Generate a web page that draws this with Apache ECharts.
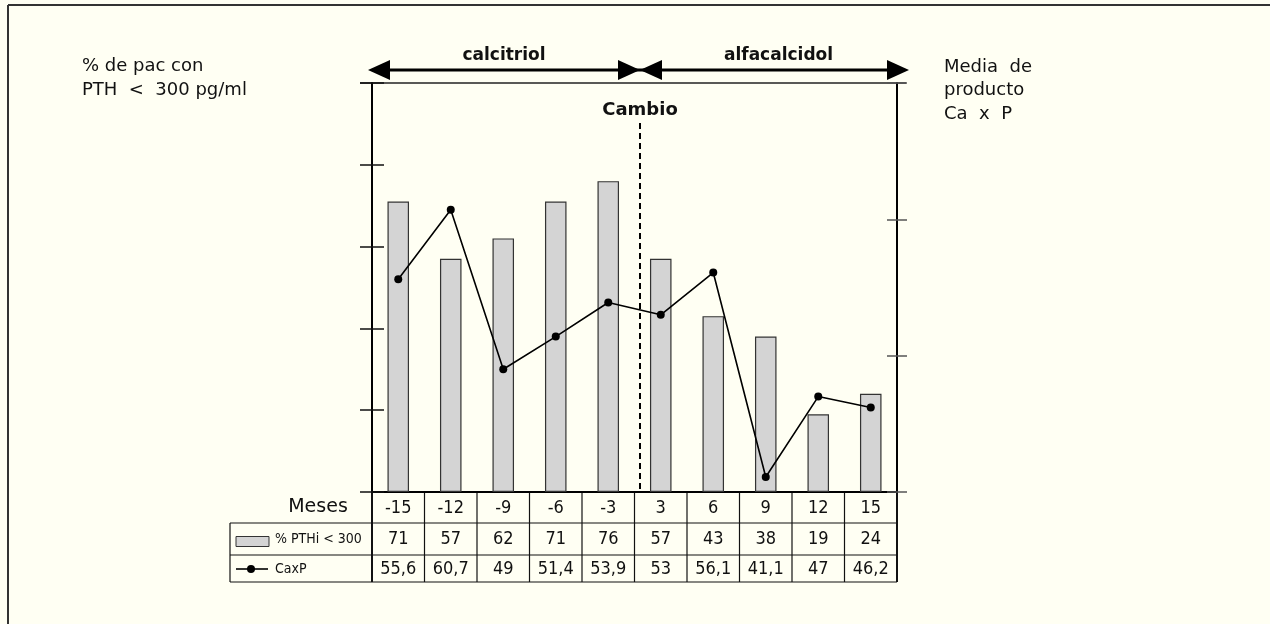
<!DOCTYPE html>
<html>
<head>
<meta charset="utf-8">
<script src="https://cdn.jsdelivr.net/npm/echarts@6/dist/echarts.min.js"></script>
<style>
html,body{margin:0;padding:0;background:#FFFFF3;}
#main{width:1270px;height:624px;}
</style>
</head>
<body>
<div id="main"></div>
<script>
const months = ['-15','-12','-9','-6','-3','3','6','9','12','15'];
const pthi = [71, 57, 62, 71, 76, 57, 43, 38, 19, 24];
const caxp = [55.6, 60.7, 49, 51.4, 53.9, 53, 56.1, 41.1, 47, 46.2];
const leftAxis = {min: 0, max: 100, interval: 20};
const rightAxis = {min: 40, max: 70, interval: 10};
const leftTitle = ['% de pac con', 'PTH  <  300 pg/ml'];
const rightTitle = ['Media  de', 'producto', 'Ca  x  P'];
const periodLabels = ['calcitriol', 'alfacalcidol'];
const changeLabel = 'Cambio';
const rowLabels = ['Meses', '% PTHi < 300', 'CaxP'];

const FONT = '"DejaVu Sans", sans-serif';
const COND = '"DejaVu Sans Condensed", "DejaVu Sans", sans-serif';
const fmtComma = v => String(v).replace('.', ',');

const chart = echarts.init(document.getElementById('main'), null, {renderer: 'canvas'});

function yAx(pos, cfg, inside, showLine) {
  return {
    type: 'value', position: pos, min: cfg.min, max: cfg.max, interval: cfg.interval,
    axisLine: {show: showLine, lineStyle: {color: '#000', width: 2}},
    axisTick: {show: true, inside: inside, length: pos === 'left' ? 12 : 10,
               lineStyle: {color: pos === 'left' ? '#111' : '#555', width: 1.5}},
    axisLabel: {show: false}, splitLine: {show: false}
  };
}
function xAx(offset, margin, formatter, showLine) {
  return {
    type: 'category', data: months, position: 'bottom', offset: offset,
    axisLine: {show: showLine, lineStyle: {color: '#000', width: 2}},
    axisTick: {show: false}, splitLine: {show: false},
    axisLabel: {show: true, interval: 0, margin: margin, verticalAlign: 'middle',
                fontFamily: COND, fontSize: 18, color: '#111', formatter: formatter}
  };
}

const option = {
  backgroundColor: '#FFFFF3',
  animation: false,
  grid: {left: 372, right: 373, top: 83, bottom: 132, containLabel: false},
  xAxis: [
    xAx(0, 16, (v) => v, true),
    xAx(31, 16, (v, i) => String(pthi[i]), false),
    xAx(63, 14, (v, i) => fmtComma(caxp[i]), false)
  ],
  yAxis: [
    yAx('left', leftAxis, false, true),
    yAx('right', rightAxis, false, true),
    yAx('left', leftAxis, true, false),
    yAx('right', rightAxis, true, false)
  ],
  series: [
    {type: 'bar', name: rowLabels[1], data: pthi, xAxisIndex: 0, yAxisIndex: 0, barWidth: '41%',
     itemStyle: {color: '#d4d4d4', borderColor: '#333', borderWidth: 1.2}, z: 2},
    {type: 'line', name: rowLabels[2], data: caxp, xAxisIndex: 0, yAxisIndex: 1,
     symbol: 'circle', symbolSize: 8, itemStyle: {color: '#000'},
     lineStyle: {color: '#000', width: 1.6}, z: 5}
  ]
};
chart.setOption(option);

const cx = i => chart.convertToPixel({xAxisIndex: 0}, months[i]);
const band = cx(1) - cx(0);
const bound = i => cx(0) - band / 2 + i * band;
const yL = v => chart.convertToPixel({yAxisIndex: 0}, v);
const yBot = yL(leftAxis.min), yTop = yL(leftAxis.max);
const xLeft = bound(0), xRight = bound(months.length);
const rowH = [31, 32, 27];
const r1 = yBot + rowH[0], r2 = r1 + rowH[1], r3 = r2 + rowH[2];
const tableLeft = 230;
const lineC = '#111';
const g = [];
g.push({type: 'line', shape: {x1: 8, y1: 5, x2: 1270, y2: 5}, style: {stroke: '#333', lineWidth: 2}});
g.push({type: 'line', shape: {x1: 8, y1: 5, x2: 8, y2: 624}, style: {stroke: '#333', lineWidth: 2}});
g.push({type: 'line', shape: {x1: xLeft - 12, y1: yTop, x2: xRight + 9, y2: yTop}, style: {stroke: '#222', lineWidth: 1.5}});
[r1, r2, r3].forEach(y => g.push({type: 'line', shape: {x1: tableLeft, y1: y, x2: xRight, y2: y}, style: {stroke: lineC, lineWidth: 1.2}}));
g.push({type: 'line', shape: {x1: tableLeft, y1: r1, x2: tableLeft, y2: r3}, style: {stroke: lineC, lineWidth: 1.2}});
for (let i = 0; i <= months.length; i++) {
  const x = bound(i);
  g.push({type: 'line', shape: {x1: x, y1: yBot, x2: x, y2: r3},
          style: {stroke: lineC, lineWidth: (i === 0 || i === months.length) ? 2 : 1.2}});
}
g.push({type: 'text', x: 318, y: yBot + rowH[0] / 2, style: {text: rowLabels[0], font: '19px ' + FONT, fill: '#111', textAlign: 'center', textVerticalAlign: 'middle'}});
g.push({type: 'rect', shape: {x: 236, y: r1 + 13.5, width: 33, height: 10}, style: {fill: '#d4d4d4', stroke: '#333', lineWidth: 1}});
g.push({type: 'text', x: 275, y: r1 + rowH[1] / 2, style: {text: rowLabels[1], font: '14px ' + COND, fill: '#111', textVerticalAlign: 'middle'}});
g.push({type: 'line', shape: {x1: 236, y1: r2 + 14, x2: 268, y2: r2 + 14}, style: {stroke: '#000', lineWidth: 1.6}});
g.push({type: 'circle', shape: {cx: 251, cy: r2 + 14, r: 4}, style: {fill: '#000'}});
g.push({type: 'text', x: 275, y: r2 + rowH[2] / 2 + 1, style: {text: rowLabels[2], font: '14px ' + COND, fill: '#111', textVerticalAlign: 'middle'}});
const xMid = bound(5) + 5.5;
const xA = xLeft - 4, xB = xRight + 12;
const ay = 70, ah = 10, al = 22;
g.push({type: 'rect', shape: {x: xA + 10, y: ay - 1.5, width: xB - xA - 20, height: 3}, style: {fill: '#000'}});
const tri = (tip, dir) => ({type: 'polygon', shape: {points: [[tip, ay], [tip + dir * al, ay - ah], [tip + dir * al, ay + ah]]}, style: {fill: '#000'}});
g.push(tri(xA, 1), tri(xMid, -1), tri(xMid, 1), tri(xB, -1));
g.push({type: 'text', x: (xA + xMid) / 2, y: 56, style: {text: periodLabels[0], font: 'bold 17px ' + FONT, fill: '#111', textAlign: 'center', textVerticalAlign: 'middle'}});
g.push({type: 'text', x: (xMid + xB) / 2 + 4, y: 56, style: {text: periodLabels[1], font: 'bold 17px ' + FONT, fill: '#111', textAlign: 'center', textVerticalAlign: 'middle'}});
g.push({type: 'text', x: xMid, y: 110, style: {text: changeLabel, font: 'bold 18px ' + FONT, fill: '#111', textAlign: 'center', textVerticalAlign: 'middle'}});
g.push({type: 'line', z: 10, shape: {x1: xMid, y1: 123, x2: xMid, y2: yBot}, style: {stroke: '#000', lineWidth: 2, lineDash: [6, 4]}});
leftTitle.forEach((t, i) => g.push({type: 'text', x: 82, y: 66 + i * 24, style: {text: t, font: '18px ' + FONT, fill: '#111', textVerticalAlign: 'middle'}}));
rightTitle.forEach((t, i) => g.push({type: 'text', x: 944, y: 67 + i * 23.5, style: {text: t, font: '18px ' + FONT, fill: '#111', textVerticalAlign: 'middle'}}));

chart.setOption({graphic: {elements: g}});
</script>
</body>
</html>
